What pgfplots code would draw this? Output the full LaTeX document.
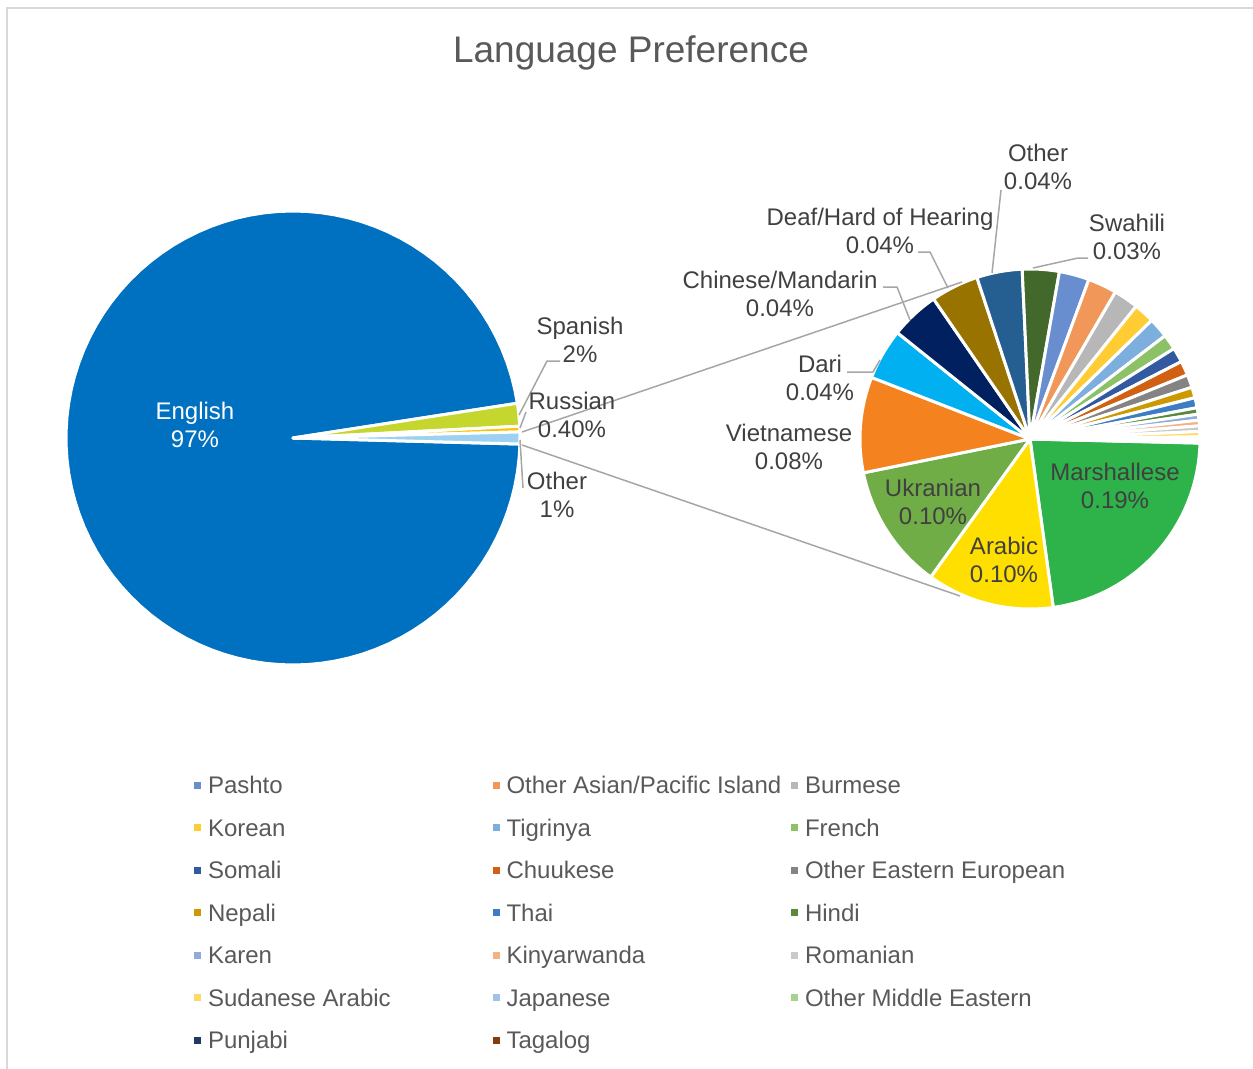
\documentclass[border=0pt]{standalone}
\usepackage{fontspec}
\setmainfont{Liberation Sans}
\usepackage{pgfplots}
\usepackage{pgfplotstable}
\pgfplotsset{compat=1.18}

% slice colours
\definecolor{cEnglish}{HTML}{0070C0}
\definecolor{cSpanish}{HTML}{C5D72F}
\definecolor{cRussian}{HTML}{FFC000}
\definecolor{cOther}{HTML}{9DD1F1}
\definecolor{cMarsh}{HTML}{2DB34A}
\definecolor{cArabic}{HTML}{FFDF00}
\definecolor{cUkr}{HTML}{70AD47}
\definecolor{cViet}{HTML}{F4821F}
\definecolor{cDari}{HTML}{00B0F0}
\definecolor{cChinese}{HTML}{002060}
\definecolor{cDeaf}{HTML}{997300}
\definecolor{cOth}{HTML}{255E91}
\definecolor{cSwahili}{HTML}{43682B}
\definecolor{cPashto}{HTML}{698ED0}
\definecolor{cAsian}{HTML}{F1975A}
\definecolor{cBurmese}{HTML}{B7B7B7}
\definecolor{cKorean}{HTML}{FFCD33}
\definecolor{cTigrinya}{HTML}{7CAFDD}
\definecolor{cFrench}{HTML}{8CC168}
\definecolor{cSomali}{HTML}{335AA1}
\definecolor{cChuukese}{HTML}{D26012}
\definecolor{cEastEur}{HTML}{848484}
\definecolor{cNepali}{HTML}{CC9A00}
\definecolor{cThai}{HTML}{3C7DC4}
\definecolor{cHindi}{HTML}{5A8A39}
\definecolor{cKaren}{HTML}{8FAADC}
\definecolor{cKinya}{HTML}{F4B183}
\definecolor{cRomanian}{HTML}{C9C9C9}
\definecolor{cSudanese}{HTML}{FFD966}
\definecolor{cJapanese}{HTML}{9DC3E6}
\definecolor{cMidEast}{HTML}{A9D18E}
\definecolor{cPunjabi}{HTML}{203864}
\definecolor{cTagalog}{HTML}{843C0C}
\definecolor{cLabel}{HTML}{404040}
\definecolor{cTitle}{HTML}{595959}
\definecolor{cLine}{HTML}{A6A6A6}
\definecolor{cFrame}{HTML}{D9D9D9}

% percent of all respondents
\pgfplotstableread[col sep=comma,row sep=\\]{
lang,value,col\\
English,97.13,cEnglish\\
Spanish,1.62,cSpanish\\
Russian,0.40,cRussian\\
Other,0.85,cOther\\
}\bigpie

\pgfplotstableread[col sep=comma,row sep=\\]{
lang,value,col\\
Marshallese,0.1900,cMarsh\\
Arabic,0.1026,cArabic\\
Ukranian,0.1007,cUkr\\
Vietnamese,0.0770,cViet\\
Dari,0.0411,cDari\\
Chinese/Mandarin,0.0394,cChinese\\
Deaf/Hard of Hearing,0.0385,cDeaf\\
Other,0.0366,cOth\\
Swahili,0.0297,cSwahili\\
Pashto,0.0242,cPashto\\
Other Asian/Pacific Island,0.0233,cAsian\\
Burmese,0.0200,cBurmese\\
Korean,0.0166,cKorean\\
Tigrinya,0.0162,cTigrinya\\
French,0.0124,cFrench\\
Somali,0.0119,cSomali\\
Chuukese,0.0116,cChuukese\\
Other Eastern European,0.0105,cEastEur\\
Nepali,0.0086,cNepali\\
Thai,0.0081,cThai\\
Hindi,0.0052,cHindi\\
Karen,0.0048,cKaren\\
Kinyarwanda,0.0045,cKinya\\
Romanian,0.0045,cRomanian\\
Sudanese Arabic,0.0043,cSudanese\\
Japanese,0.0021,cJapanese\\
Other Middle Eastern,0.0012,cMidEast\\
Punjabi,0.0010,cPunjabi\\
Tagalog,0.0005,cTagalog\\
}\smallpie

% pie from a table: #1 table, #2 cx, #3 cy, #4 radius, #5 start angle (clockwise)
\newcommand{\drawpie}[5]{%
  \pgfplotstablegetrowsof{#1}%
  \pgfmathtruncatemacro{\nrows}{\pgfplotsretval-1}%
  \def\pietotal{0}%
  \pgfplotsforeachungrouped \k in {0,...,\nrows}{%
    \pgfplotstablegetelem{\k}{value}\of{#1}%
    \pgfmathsetmacro{\pietotal}{\pietotal+\pgfplotsretval}}%
  \pgfmathsetmacro{\angA}{#5}%
  \pgfplotsforeachungrouped \k in {0,...,\nrows}{%
    \pgfplotstablegetelem{\k}{value}\of{#1}%
    \pgfmathsetmacro{\angB}{\angA-\pgfplotsretval/\pietotal*360}%
    \pgfplotstablegetelem{\k}{col}\of{#1}%
    \edef\doslice{\noexpand\addplot[forget plot, fill=\pgfplotsretval, draw=white,
      line width=1.5pt, line join=round, domain=\angB:\angA, samples=100]
      ({#2+#4*cos(x)}, {#3-#4*sin(x)}) -- (axis cs:#2,#3) -- cycle;}%
    \doslice
    \let\angA\angB
  }%
}

\newcommand{\legtext}[1]{\makebox[142.25pt][l]{\rule[-6.3pt]{0pt}{21.25pt}#1}}

\begin{document}
\begin{tikzpicture}
\begin{axis}[
    name=ax,
    width=626.5pt, height=534.5pt, scale only axis,
    xmin=0, xmax=1253, ymin=0, ymax=1069,
    y dir=reverse,
    hide axis, clip=false,
    legend image code/.code={\fill[#1] (0pt,-1.75pt) rectangle (3.5pt,1.75pt);},
    legend columns=3,
    legend cell align=left,
    legend style={draw=none, fill=none, at={(axis cs:194,763.75)}, anchor=north west,
        inner sep=0pt, outer sep=0pt, row sep=0pt, column sep=0pt,
        nodes={inner sep=0pt, text depth=},
        font=\fontsize{12}{14}\selectfont, text=cTitle,
        /tikz/every odd column/.append style={column sep=3.5pt}},
]
% frame
\draw[cFrame, line width=1pt] (axis cs:7,1069) -- (axis cs:7,8) -- (axis cs:1253,8);

\drawpie{\bigpie}{293}{438}{227}{358.47}
\drawpie{\smallpie}{1030}{439}{170}{-1.4}

% legend for the unlabelled languages
\pgfplotsforeachungrouped \k in {9,...,28}{%
  \pgfplotstablegetelem{\k}{col}\of\smallpie \let\lcol\pgfplotsretval
  \pgfplotstablegetelem{\k}{lang}\of\smallpie \let\llang\pgfplotsretval
  \edef\doleg{\noexpand\addlegendimage{fill=\lcol, draw=none}%
    \noexpand\addlegendentry{\noexpand\legtext{\llang}}}%
  \doleg
}

% connector lines between the pies
\draw[cLine, line width=0.75pt] (axis cs:522,432) -- (axis cs:962,282);
\draw[cLine, line width=0.75pt] (axis cs:522,445) -- (axis cs:960,596);

% leader lines
\begin{scope}[cLine, line width=0.75pt]
\draw (axis cs:519,415) -- (axis cs:547,361) -- (axis cs:560,361);
\draw (axis cs:520,428) -- (axis cs:526,412);
\draw (axis cs:520,440) -- (axis cs:523,488);
\draw (axis cs:880,360) -- (axis cs:873,372) -- (axis cs:847,372);
\draw (axis cs:910,320) -- (axis cs:897,287) -- (axis cs:883,287);
\draw (axis cs:948,288) -- (axis cs:930,252) -- (axis cs:918,252);
\draw (axis cs:992,273) -- (axis cs:1001,190);
\draw (axis cs:1033,268) -- (axis cs:1078,258) -- (axis cs:1088,258);
\end{scope}

% title and data labels
\node[font=\fontsize{18.5}{22}\selectfont, text=cTitle] at (axis cs:631,53) {Language Preference};
\begin{scope}[every node/.style={font=\fontsize{12}{14}\selectfont, text=cLabel, align=center}]
\node[text=white] at (axis cs:195,425) {English\\97\%};
\node at (axis cs:580,340) {Spanish\\2\%};
\node at (axis cs:572,415) {Russian\\0.40\%};
\node at (axis cs:557,495) {Other\\1\%};
\node at (axis cs:789,447) {Vietnamese\\0.08\%};
\node at (axis cs:820,378) {Dari\\0.04\%};
\node at (axis cs:780,294) {Chinese/Mandarin\\0.04\%};
\node at (axis cs:880,231) {Deaf/Hard of Hearing\\0.04\%};
\node at (axis cs:1038,167) {Other\\0.04\%};
\node at (axis cs:1127,237) {Swahili\\0.03\%};
\node at (axis cs:1115,486) {Marshallese\\0.19\%};
\node at (axis cs:933,502) {Ukranian\\0.10\%};
\node at (axis cs:1004,560) {Arabic\\0.10\%};
\end{scope}
\end{axis}
\pgfresetboundingbox
\path (ax.south west) rectangle (ax.north east);
\end{tikzpicture}
\end{document}
